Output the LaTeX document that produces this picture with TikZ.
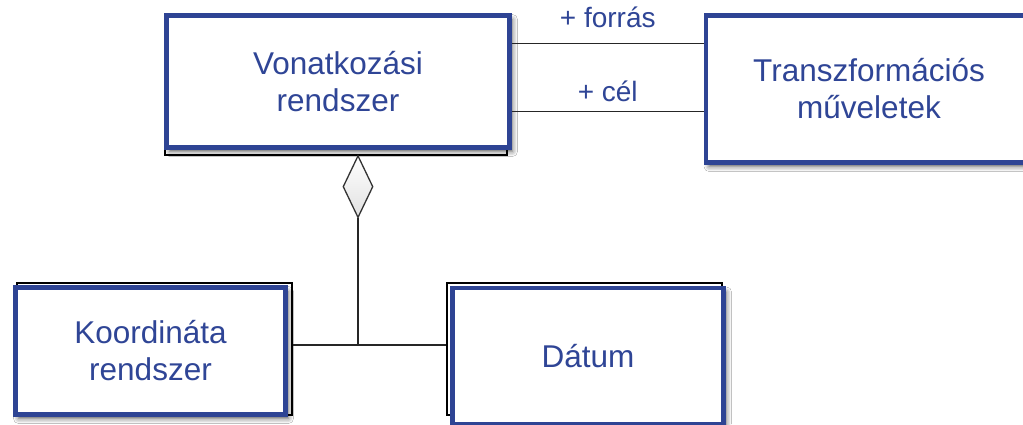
\documentclass[tikz,border=0pt]{standalone}
\usepackage{fontspec}
\setmainfont{Liberation Sans}
\usetikzlibrary{shapes.geometric,shadows.blur,calc}
\definecolor{umlblue}{HTML}{2E4494}
\definecolor{umltext}{HTML}{2F4596}
\tikzset{
  umlbox/.style={draw=umlblue, line width=4.8pt, fill=white, inner sep=0pt,
    align=center, text=umltext, font=\fontsize{31.5}{37}\selectfont,
    blur shadow={shadow xshift=3pt, shadow yshift=-4pt, shadow blur radius=5pt, shadow opacity=65}},
  backbox/.style={draw=black, line width=1.2pt, fill=white, inner sep=0pt},
  conn/.style={draw=black!85, line width=1.2pt},
  rolelabel/.style={text=umltext, font=\fontsize{28}{32}\selectfont, anchor=base, inner sep=0pt},
  aggr/.style={diamond, draw=black!80, line width=1.3pt, top color=white, bottom color=black!12,
    minimum width=30pt, minimum height=62pt, inner sep=0pt, shape aspect=0.48}
}
\begin{document}
\begin{tikzpicture}[x=1pt,y=1pt]
\useasboundingbox (0,0) rectangle (1023,424);
\clip (0,0) rectangle (1023,424);
\fill[white] (0,0) rectangle (1023,424);
% back outlines
\node[backbox, minimum width=342pt, minimum height=140pt] (bg1) at (336,339) {};
\node[backbox, minimum width=275pt, minimum height=132pt] (bg3) at (154.5,75) {};
\node[backbox, minimum width=275pt, minimum height=132pt] (bg4) at (584.5,75) {};
% main boxes
\node[umlbox, minimum width=343pt, minimum height=132pt] (ref) at (338,342.5) {Vonatkozási\\rendszer};
\node[umlbox, minimum width=326pt, minimum height=147pt] (trf) at (869,335) {Transzformációs\\műveletek};
\node[umlbox, minimum width=270pt, minimum height=127pt] (krd) at (150.5,73) {Koordináta\\rendszer};
\node[umlbox, minimum width=271pt, minimum height=136pt] (dat) at (588,68) {Dátum};
% associations
\coordinate (f1) at ($(ref.north east)!0.225!(ref.south east)$);
\coordinate (c1) at ($(ref.north east)!0.72!(ref.south east)$);
\draw[conn] (f1) -- node[rolelabel, yshift=16pt] {+ forrás} (f1 -| trf.west);
\draw[conn] (c1) -- node[rolelabel, yshift=10pt] {+ cél} (c1 -| trf.west);
% aggregation
\node[aggr, anchor=north] (dia) at (358,269) {};
\coordinate (j) at (358,79);
\draw[conn] (dia.south) -- (j);
\draw[conn] (j -| bg3.east) -- (j -| bg4.west);
\end{tikzpicture}
\end{document}
